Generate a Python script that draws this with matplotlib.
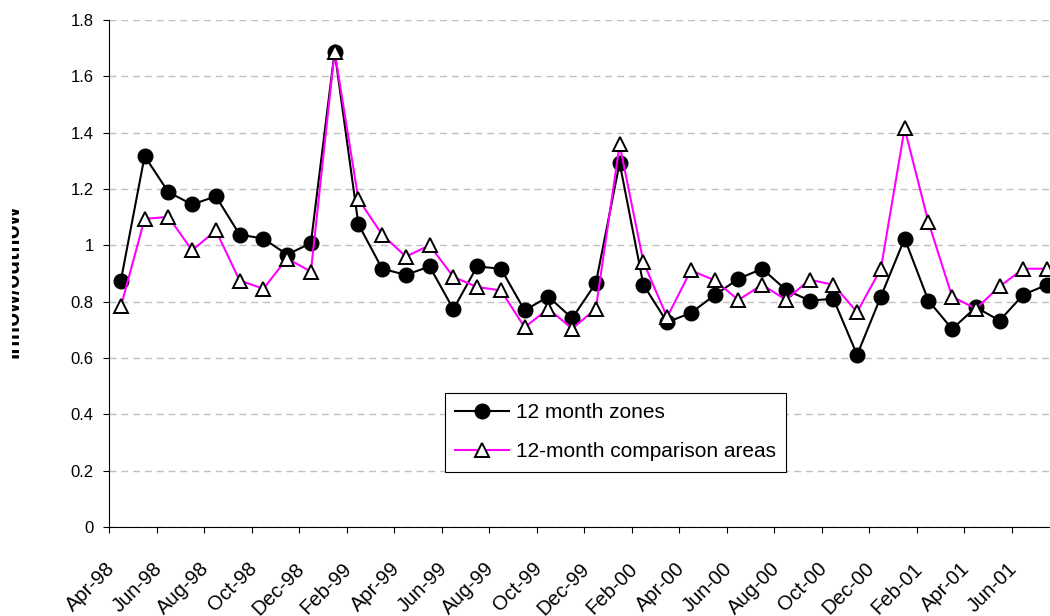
import matplotlib
matplotlib.use("Agg")
import matplotlib.pyplot as plt
from matplotlib.transforms import ScaledTranslation, Bbox
import numpy as np

plt.rcParams["font.family"] = ["Liberation Sans", "DejaVu Sans"]

months = [
    "Apr-98", "May-98", "Jun-98", "Jul-98", "Aug-98", "Sep-98", "Oct-98", "Nov-98", "Dec-98",
    "Jan-99", "Feb-99", "Mar-99", "Apr-99", "May-99", "Jun-99", "Jul-99", "Aug-99", "Sep-99",
    "Oct-99", "Nov-99", "Dec-99", "Jan-00", "Feb-00", "Mar-00", "Apr-00", "May-00", "Jun-00",
    "Jul-00", "Aug-00", "Sep-00", "Oct-00", "Nov-00", "Dec-00", "Jan-01", "Feb-01", "Mar-01",
    "Apr-01", "May-01", "Jun-01", "Jul-01",
]

zones = [
    0.875, 1.317, 1.189, 1.145, 1.174, 1.038, 1.024, 0.967, 1.008, 1.688,
    1.075, 0.917, 0.895, 0.925, 0.773, 0.925, 0.917, 0.769, 0.818, 0.741,
    0.866, 1.293, 0.860, 0.727, 0.760, 0.823, 0.881, 0.917, 0.842, 0.804,
    0.810, 0.611, 0.818, 1.024, 0.804, 0.703, 0.780, 0.733, 0.825, 0.860,
]

comparison = [
    0.783, 1.094, 1.101, 0.982, 1.053, 0.875, 0.846, 0.953, 0.907, 1.688,
    1.164, 1.038, 0.960, 1.000, 0.888, 0.852, 0.840, 0.709, 0.775, 0.704,
    0.775, 1.358, 0.941, 0.745, 0.911, 0.876, 0.806, 0.860, 0.807, 0.878,
    0.860, 0.763, 0.917, 1.415, 1.083, 0.818, 0.775, 0.854, 0.917, 0.917,
]

y_ticks = [0, 0.2, 0.4, 0.6, 0.8, 1.0, 1.2, 1.4, 1.6, 1.8]
y_tick_labels = ["0", "0.2", "0.4", "0.6", "0.8", "1", "1.2", "1.4", "1.6", "1.8"]

W, H = 1050, 616
fig = plt.figure(figsize=(W / 100, H / 100), dpi=100)
# plot area runs a little past the right edge of the canvas
ax = fig.add_axes([109 / W, 1 - 527 / H, (1059 - 109) / W, (527 - 20) / H])

x = np.arange(len(months))

ax.plot(x, zones, color="black", linewidth=1.5, marker="o", markersize=10.5,
        markerfacecolor="black", markeredgecolor="black", label="12 month zones",
        clip_on=False, zorder=3)
ax.plot(x, comparison, color="#ff00ff", linewidth=1.5, marker="^", markersize=10,
        markerfacecolor="white", markeredgecolor="black", markeredgewidth=1.4,
        label="12-month comparison areas", clip_on=False, zorder=4)

ax.set_xlim(-0.5, len(months) - 0.5)
ax.set_ylim(0, 1.8)

ax.set_yticks(y_ticks)
ax.set_yticklabels(y_tick_labels, fontsize=12)
ax.tick_params(axis="y", direction="out", length=4, width=0.8, pad=7)
ax.yaxis.grid(True, color="#c0c0c0", linewidth=1.0, linestyle=(0, (5, 3.5)))
ax.set_axisbelow(True)

# tick marks sit on category boundaries, one label every second month
tick_pos = np.arange(0, len(months), 2) - 0.5
ax.set_xticks(tick_pos)
ax.set_xticklabels(months[::2], fontsize=14.5, rotation=45, ha="right", va="top",
                   rotation_mode="anchor")
ax.tick_params(axis="x", direction="out", length=4, width=0.8, pad=19)
shift = ScaledTranslation(-3 / 72, 0, fig.dpi_scale_trans)
for lab in ax.get_xticklabels():
    lab.set_transform(lab.get_transform() + shift)

for side in ("top", "right"):
    ax.spines[side].set_visible(False)
for side in ("left", "bottom"):
    ax.spines[side].set_linewidth(0.8)
    ax.spines[side].set_color("black")

# axis title is partly hidden behind the left border of the chart area
ylab = fig.text(23.5 / W, 1 - 281 / H, "Inflow/outflow", rotation=90, ha="right",
                va="center", fontsize=16.5, fontweight="bold")
ylab.set_clip_box(Bbox.from_extents(11.7, 0, 80, H))
ylab.set_clip_on(True)

leg = ax.legend(loc="upper left", bbox_to_anchor=(445 / W, 1 - 393 / H),
                bbox_transform=fig.transFigure, borderaxespad=0, fontsize=15,
                frameon=True, fancybox=False, framealpha=1, edgecolor="black",
                handlelength=2.55, handletextpad=0.35, borderpad=0.5,
                labelspacing=0.95)
leg.get_frame().set_linewidth(0.8)

fig.savefig("out.png", dpi=100)
